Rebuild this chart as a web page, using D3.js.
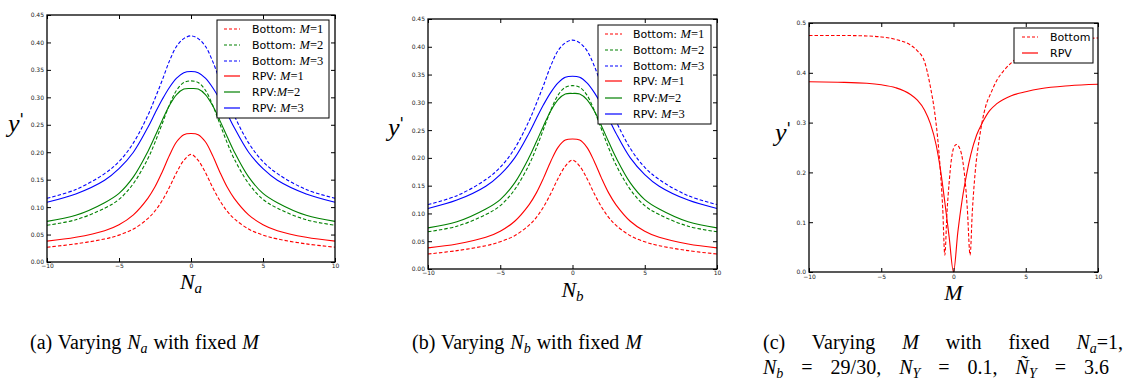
<!DOCTYPE html>
<html><head><meta charset="utf-8">
<script src="https://cdn.jsdelivr.net/npm/d3@7"></script>
<style>
body{margin:0;background:#fff;}
svg{display:block;}
.tick text{font-family:"DejaVu Sans",sans-serif;font-size:6px;fill:#222;}
</style></head>
<body>
<svg id="chart" width="1135" height="381"></svg>
<script>
// ---------- data ----------
const nGrid = [-10,-8,-6,-5,-4,-3,-2.5,-2,-1.5,-1,-0.5,0,0.5,1,1.5,2,2.5,3,4,5,6,8,10];
const bottomM1 = [0.027,0.033,0.042,0.049,0.060,0.079,0.093,0.112,0.136,0.163,0.185,0.196,0.185,0.163,0.136,0.112,0.093,0.079,0.060,0.049,0.042,0.033,0.027];
const bottomM2 = [0.067,0.077,0.098,0.114,0.143,0.188,0.218,0.252,0.286,0.313,0.327,0.330,0.327,0.313,0.286,0.252,0.218,0.188,0.143,0.114,0.098,0.077,0.067];
const bottomM3 = [0.116,0.132,0.161,0.183,0.217,0.267,0.298,0.331,0.366,0.393,0.407,0.412,0.407,0.393,0.366,0.331,0.298,0.267,0.217,0.183,0.161,0.132,0.116];
const rpvM1 = [0.038,0.045,0.057,0.068,0.086,0.116,0.137,0.164,0.194,0.219,0.232,0.234,0.232,0.219,0.194,0.164,0.137,0.116,0.086,0.068,0.057,0.045,0.038];
const rpvM2 = [0.074,0.085,0.108,0.125,0.155,0.201,0.229,0.258,0.285,0.305,0.315,0.316,0.315,0.305,0.285,0.258,0.229,0.201,0.155,0.125,0.108,0.085,0.074];
const rpvM3 = [0.109,0.124,0.149,0.170,0.200,0.245,0.271,0.296,0.318,0.335,0.345,0.347,0.345,0.335,0.318,0.296,0.271,0.245,0.200,0.170,0.149,0.124,0.109];

const cBottomM = [-10,-8,-6,-5,-4,-3,-2.5,-2,-1.6,-1.3,-1.1,-0.9,-0.75,-0.6,-0.45,-0.3,-0.15,0,0.2,0.4,0.6,0.8,0.95,1.15,1.3,1.5,1.8,2.2,2.6,3,3.5,4,5,6,8,10];
const cBottomY = [0.475,0.475,0.474,0.472,0.467,0.456,0.444,0.422,0.372,0.320,0.270,0.200,0.130,0.034,0.120,0.180,0.225,0.248,0.256,0.250,0.230,0.185,0.130,0.034,0.120,0.200,0.270,0.330,0.360,0.385,0.405,0.420,0.440,0.452,0.465,0.470];
const cRpvM = [-10,-8,-6,-5,-4,-3,-2.5,-2,-1.6,-1.2,-0.9,-0.6,-0.3,0,0.3,0.6,0.9,1.2,1.6,2,2.5,3,4,5,6,8,10];
const cRpvY = [0.382,0.381,0.379,0.376,0.370,0.357,0.345,0.325,0.298,0.255,0.205,0.140,0.070,0.000,0.080,0.145,0.195,0.236,0.275,0.300,0.324,0.338,0.354,0.362,0.368,0.374,0.377];

const xTicks = [-10,-5,0,5,10];
const yTicksAB = [0,0.05,0.10,0.15,0.20,0.25,0.30,0.35,0.40,0.45];
const yTicksC = [0,0.1,0.2,0.3,0.4,0.5];

const legendAB = [
  {pre:"Bottom: ", m:"M", eq:"=1", color:"#ff0000", dash:true},
  {pre:"Bottom: ", m:"M", eq:"=2", color:"#008000", dash:true},
  {pre:"Bottom: ", m:"M", eq:"=3", color:"#0000ff", dash:true},
  {pre:"RPV: ", m:"M", eq:"=1", color:"#ff0000", dash:false},
  {pre:"RPV:", m:"M", eq:"=2", color:"#008000", dash:false},
  {pre:"RPV: ", m:"M", eq:"=3", color:"#0000ff", dash:false}
];
const legendC = [
  {pre:"Bottom", m:"", eq:"", color:"#ff0000", dash:true},
  {pre:"RPV", m:"", eq:"", color:"#ff0000", dash:false}
];

const seriesAB = [
  {x:nGrid, y:bottomM1, color:"#ff0000", dash:true},
  {x:nGrid, y:bottomM2, color:"#008000", dash:true},
  {x:nGrid, y:bottomM3, color:"#0000ff", dash:true},
  {x:nGrid, y:rpvM1, color:"#ff0000", dash:false},
  {x:nGrid, y:rpvM2, color:"#008000", dash:false},
  {x:nGrid, y:rpvM3, color:"#0000ff", dash:false}
];
const seriesC = [
  {x:cBottomM, y:cBottomY, color:"#ff0000", dash:true},
  {x:cRpvM, y:cRpvY, color:"#ff0000", dash:false}
];

const svg = d3.select("#chart");
const DASH = "3.5,2";
const serif = "'Liberation Serif','DejaVu Serif',serif";
const sans = "'DejaVu Sans',sans-serif";

function panel(cfg){
  const x = d3.scaleLinear().domain([-10,10]).range([cfg.x0,cfg.x1]);
  const y = d3.scaleLinear().domain(cfg.yDomain).range([cfg.y1,cfg.y0]);
  const g = svg.append("g");
  // series
  const line = d3.line().curve(cfg.curve);
  cfg.series.forEach(s=>{
    const pts = s.x.map((v,i)=>[x(v), y(s.y[i])]);
    g.append("path").attr("d", line(pts)).attr("fill","none")
      .attr("stroke", s.color).attr("stroke-width", 1.1)
      .attr("stroke-dasharray", s.dash ? DASH : null);
  });
  // axes (ticks inward on all four sides)
  const ax = (a)=>a.tickSizeInner(-4).tickSizeOuter(0);
  const bottom = g.append("g").attr("transform",`translate(0,${cfg.y1})`)
    .call(ax(d3.axisBottom(x)).tickValues(xTicks).tickFormat(d3.format("d")).tickPadding(cfg.xPad));
  const top = g.append("g").attr("transform",`translate(0,${cfg.y0})`)
    .call(ax(d3.axisTop(x)).tickValues(xTicks).tickFormat("")) ;
  const left = g.append("g").attr("transform",`translate(${cfg.x0},0)`)
    .call(ax(d3.axisLeft(y)).tickValues(cfg.yTicks).tickFormat(d3.format(cfg.yFmt)).tickPadding(3));
  const right = g.append("g").attr("transform",`translate(${cfg.x1},0)`)
    .call(ax(d3.axisRight(y)).tickValues(cfg.yTicks).tickFormat(""));
  [bottom,top,left,right].forEach(a=>{a.select(".domain").remove(); a.selectAll("line").attr("stroke","#000");});
  g.append("rect").attr("x",cfg.x0).attr("y",cfg.y0).attr("width",cfg.x1-cfg.x0).attr("height",cfg.y1-cfg.y0)
    .attr("fill","none").attr("stroke","#000").attr("stroke-width",1.3);
  // legend
  const L = cfg.legend;
  g.append("rect").attr("x",L.x0).attr("y",L.y0).attr("width",L.x1-L.x0).attr("height",L.y1-L.y0)
    .attr("fill","#fff").attr("stroke","#000").attr("stroke-width",1);
  L.items.forEach((it,i)=>{
    const yy = L.ys[i];
    g.append("line").attr("x1",L.lx0).attr("x2",L.lx1).attr("y1",yy).attr("y2",yy)
      .attr("stroke",it.color).attr("stroke-width",1.2).attr("stroke-dasharray",it.dash?"3,2":null);
    const t = g.append("text").attr("x",L.tx).attr("y",yy+4).attr("font-family",sans).attr("font-size",11).attr("fill","#000");
    t.append("tspan").text(it.pre);
    if(it.m){
      t.append("tspan").attr("font-family",serif).attr("font-style","italic").attr("font-size",12.5).text(it.m);
      t.append("tspan").attr("font-family",serif).attr("font-size",12.5).text(it.eq);
    }
  });
  // y label
  const yl = g.append("text").attr("x",cfg.ylx).attr("y",cfg.yly).attr("font-size",26).attr("fill","#000");
  yl.append("tspan").attr("font-family",serif).attr("font-style","italic").text("y");
  yl.append("tspan").attr("font-family",sans).attr("font-size",16).attr("dy",-7).text("'");
  // x label
  const xl = g.append("text").attr("x",(cfg.x0+cfg.x1)/2).attr("y",cfg.xly).attr("text-anchor","middle")
    .attr("font-family",serif).attr("font-style","italic").attr("font-size",22).attr("fill","#000");
  xl.append("tspan").text(cfg.xlab);
  if(cfg.xsub) xl.append("tspan").attr("font-size",15).attr("dy",4).text(cfg.xsub);
}

const smooth = d3.curveCatmullRom.alpha(0.5);
panel({x0:47,x1:335,y0:15,y1:262,yDomain:[0,0.45],yTicks:yTicksAB,yFmt:".2f",series:seriesAB,curve:smooth,xPad:2,
  legend:{x0:217,x1:329,y0:20,y1:118,ys:[29,45,61,76,92,108],lx0:224,lx1:240,tx:252,items:legendAB},
  ylx:8,yly:132,xly:289,xlab:"N",xsub:"a"});
panel({x0:428,x1:717,y0:19,y1:269,yDomain:[0,0.45],yTicks:yTicksAB,yFmt:".2f",series:seriesAB,curve:smooth,xPad:2,
  legend:{x0:598,x1:711,y0:25,y1:124,ys:[34,50,66,81,98,114],lx0:605,lx1:622,tx:633,items:legendAB},
  ylx:388,yly:136,xly:297,xlab:"N",xsub:"b"});
panel({x0:809,x1:1098,y0:23,y1:272,yDomain:[0,0.5],yTicks:yTicksC,yFmt:".1f",series:seriesC,curve:d3.curveMonotoneX,xPad:3,
  legend:{x0:1014,x1:1093,y0:28,y1:63,ys:[37,53],lx0:1022,lx1:1038,tx:1050,items:legendC},
  ylx:775,yly:141,xly:300,xlab:"M",xsub:""});

// captions
function caption(x, yb, ws, parts){
  const t = svg.append("text").attr("x",x).attr("y",yb).attr("font-family",serif).attr("font-size",20)
    .attr("word-spacing",ws).attr("fill","#000");
  parts.forEach(p=>{
    const s = t.append("tspan").text(p.t);
    if(p.i) s.attr("font-style","italic");
    if(p.sub) s.attr("font-size",14).attr("dy",4);
    if(p.up) s.attr("dy",-4);
  });
}
caption(30,349,1,[{t:"(a) Varying "},{t:"N",i:1},{t:"a",i:1,sub:1},{t:" with fixed ",up:1},{t:"M",i:1}]);
caption(412,349,1,[{t:"(b) Varying "},{t:"N",i:1},{t:"b",i:1,sub:1},{t:" with fixed ",up:1},{t:"M",i:1}]);
caption(763,349,22,[{t:"(c) Varying "},{t:"M",i:1},{t:" with fixed "},{t:"N",i:1},{t:"a",i:1,sub:1},{t:"=1,",up:1}]);
caption(763,374,13,[{t:"N",i:1},{t:"b",i:1,sub:1},{t:" = 29/30, ",up:1},{t:"N",i:1},{t:"Y",i:1,sub:1},{t:" = 0.1, ",up:1},{t:"Ñ",i:1},{t:"Y",i:1,sub:1},{t:" = 3.6",up:1}]);
</script>
</body></html>
